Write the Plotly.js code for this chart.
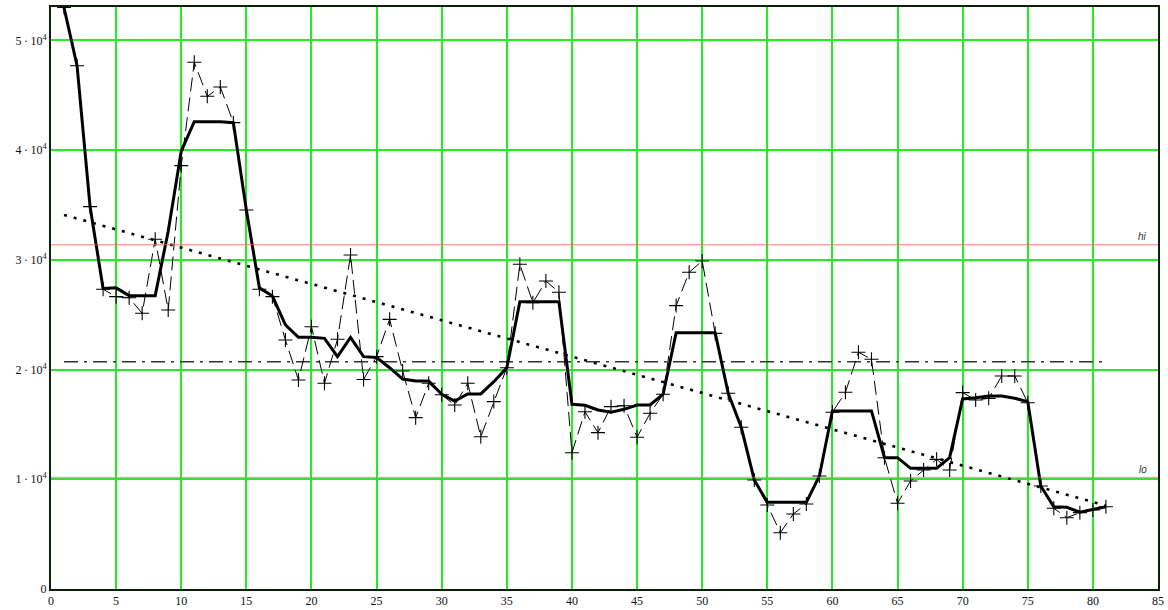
<!DOCTYPE html>
<html>
<head>
<meta charset="utf-8">
<script src="https://cdn.plot.ly/plotly-3.0.1.min.js"></script>
<style>html,body{margin:0;padding:0;background:#fff}#chart{width:1168px;height:610px}</style>
</head>
<body>
<div id="chart"></div>
<script>
// sample index
const xs = [1,2,3,4,5,6,7,8,9,10,11,12,13,14,15,16,17,18,19,20,21,22,23,24,25,26,27,28,29,30,31,32,33,34,35,36,37,38,39,40,41,42,43,44,45,46,47,48,49,50,51,52,53,54,55,56,57,58,59,60,61,62,63,64,65,66,67,68,69,70,71,72,73,74,75,76,77,78,79,80,81];
// raw measurements (dashed with + markers)
const rawValues = [53000,47700,34850,27320,26650,26550,25130,31880,25430,38590,48010,44910,45760,42510,34550,27320,26650,22700,19050,23910,18750,22770,30450,19100,21180,24580,19870,15620,18750,17700,16770,18750,13880,17080,20170,29600,26100,28080,27050,12420,16160,14250,16620,16710,13830,16020,17750,25830,28870,29900,23300,17840,14740,9940,7660,5130,6840,7750,10300,16110,17930,21580,20940,11970,7810,9850,10850,11820,10850,17900,17230,17380,19420,19420,16980,9390,7360,6500,6960,7200,7500];
// smoothed curve (thick)
const smoothValues = [53000,47700,34850,27400,27450,26740,26740,26740,32600,39900,42600,42600,42600,42510,34550,27450,26700,24070,22940,22940,22850,21180,22940,21180,21100,20170,19140,18960,18960,17750,17140,17780,17780,18900,20170,26190,26190,26190,26190,16840,16750,16320,16110,16380,16770,16770,17750,23360,23360,23360,23360,17840,14740,9940,7900,7900,7900,7900,10300,16230,16230,16230,16230,11970,11970,11000,11000,11000,11970,17320,17440,17590,17590,17380,17080,9390,7500,7450,7000,7270,7500];
// mean level
const meanX = [1,81];
const meanValues = [20720,20720];
// linear trend endpoints
const trendX = [1,81];
const trendValues = [34100,7600];
// limits
const hiValue = 31380;
const loValue = 10160;
const limitLabels = ['hi','lo'];
// tick labels
const yTickVals = [0,10000,20000,30000,40000,50000];
const yTickText = ['0','1\u2009·\u200910<sup>4</sup>','2\u2009·\u200910<sup>4</sup>','3\u2009·\u200910<sup>4</sup>','4\u2009·\u200910<sup>4</sup>','5\u2009·\u200910<sup>4</sup>'];
const xTickVals = [0,5,10,15,20,25,30,35,40,45,50,55,60,65,70,75,80,85];

const traces = [
  {x: trendX, y: trendValues, mode:'lines', line:{color:'#000', width:2.6, dash:'3px,7px'}, hoverinfo:'skip'},
  {x: meanX, y: meanValues, mode:'lines', line:{color:'#333', width:1.4, dash:'14px,6px,3px,6px'}, hoverinfo:'skip'},
  {x: xs, y: rawValues, mode:'lines+markers', line:{color:'#000', width:1, dash:'14px,6px'},
   marker:{symbol:'cross-thin', size:10, line:{color:'#000', width:1.1}}},
  {x: xs, y: smoothValues, mode:'lines', line:{color:'#000', width:3}}
];

const serif = 'Liberation Serif, Times New Roman, serif';
const layout = {
  width:1168, height:610,
  margin:{l:51, r:10, t:7, b:21},
  paper_bgcolor:'#fff', plot_bgcolor:'#fff',
  showlegend:false,
  font:{family:serif, size:12, color:'#111'},
  xaxis:{range:[0,85], tickvals:xTickVals, ticktext:xTickVals.map(String),
    showgrid:true, gridcolor:'#22ee22', gridwidth:2, zeroline:false,
    showline:true, mirror:true, linecolor:'#0a200a', linewidth:2,
    ticks:'', tickfont:{family:serif, size:12, color:'#111'}},
  yaxis:{range:[0,53050], tickvals:yTickVals, ticktext:yTickText,
    showgrid:true, gridcolor:'#22ee22', gridwidth:2, zeroline:false,
    showline:true, mirror:true, linecolor:'#0a200a', linewidth:2,
    ticks:'', tickfont:{family:serif, size:12, color:'#111'}},
  shapes:[
    {type:'line', xref:'paper', x0:0, x1:1, yref:'y', y0:hiValue, y1:hiValue, line:{color:'rgba(255,90,90,0.55)', width:1.5}},
    {type:'line', xref:'paper', x0:0, x1:1, yref:'y', y0:loValue, y1:loValue, line:{color:'rgba(255,90,90,0.55)', width:1.5}}
  ],
  annotations:[
    {x:84.3, y:hiValue, xref:'x', yref:'y', text:'<i>'+limitLabels[0]+'</i>', showarrow:false, xanchor:'right', yanchor:'bottom', yshift:1, font:{family:'Liberation Sans, Arial, sans-serif', size:10, color:'#333'}},
    {x:84.3, y:loValue, xref:'x', yref:'y', text:'<i>'+limitLabels[1]+'</i>', showarrow:false, xanchor:'right', yanchor:'bottom', yshift:1, font:{family:'Liberation Sans, Arial, sans-serif', size:10, color:'#333'}}
  ]
};
Plotly.newPlot('chart', traces, layout, {displayModeBar:false, staticPlot:true});
</script>
</body>
</html>
